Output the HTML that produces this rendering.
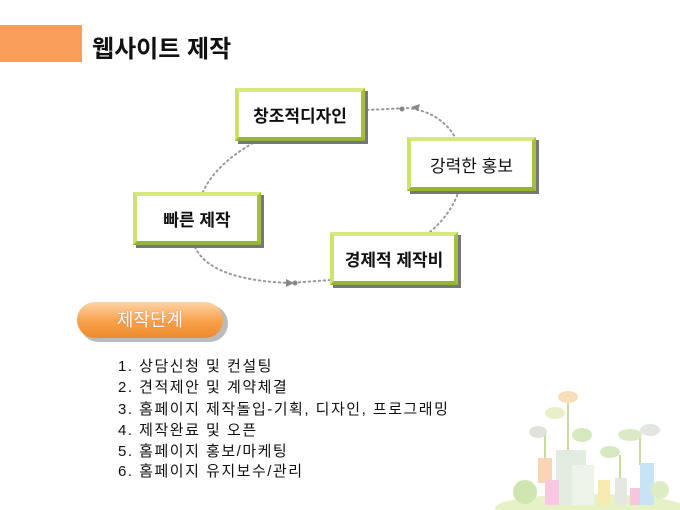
<!DOCTYPE html>
<html><head><meta charset="utf-8"><style>
body{margin:0;width:680px;height:510px;background:#fff;position:relative;overflow:hidden;font-family:"Liberation Sans","Noto Sans CJK KR",sans-serif}
.a{position:absolute}
.box{position:absolute;box-sizing:border-box;background:#fff;border:4px solid #bcd94c;border-top-color:#d6ea7c;border-left-color:#cce36a;border-bottom-color:#94b530;border-right-color:#a3c13a;box-shadow:3px 3px 0 #777;display:flex;align-items:center;justify-content:center;font-size:17px;font-weight:bold;color:#111}
.li{position:absolute;left:118px;font-size:15px;letter-spacing:1.5px;color:#111;white-space:nowrap}
</style></head><body>
<div class="a" style="left:0;top:25px;width:82px;height:37px;background:#f99d5b"></div>
<div class="a" style="left:92px;top:29px;font-size:24px;font-weight:bold;color:#111">웹사이트 제작</div>
<svg class="a" style="left:0;top:0" width="680" height="510">
<g fill="none" stroke="#999" stroke-width="2" stroke-dasharray="1.5 3.5" stroke-linecap="round">
<path d="M367 110 L408 108 Q440 112 455 137"/>
<path d="M253 143 Q215 165 203 192"/>
<path d="M195 247 Q210 280 290 283 L330 280"/>
<path d="M430 232 Q450 215 458 193"/>
</g>
<g fill="#888"><circle cx="402" cy="109" r="2.5"/><path d="M411 107 l9 -3 l-2 7z"/><circle cx="295" cy="283" r="2.5"/><path d="M286 279 l8 4 l-8 4z"/></g>
</svg>
<div class="box" style="left:235px;top:88px;width:130px;height:53px">창조적디자인</div>
<div class="box" style="left:407px;top:137px;width:129px;height:54px;font-weight:normal">강력한 홍보</div>
<div class="box" style="left:133px;top:192px;width:128px;height:53px">빠른 제작</div>
<div class="box" style="left:330px;top:232px;width:128px;height:53px">경제적 제작비</div>
<div class="a" style="left:80px;top:305px;width:148px;height:37px;border-radius:19px;background:#bbb"></div>
<div class="a" style="left:77px;top:302px;width:146px;height:36px;border-radius:18px;background:linear-gradient(#fdd4a6,#f7a04a 55%,#f08a2c);color:#fff;font-size:18px;line-height:36px;text-align:center;text-shadow:0 0 1px #a65">제작단계</div>
<div class="li" style="top:355px">1. 상담신청 및 컨설팅</div>
<div class="li" style="top:376px">2. 견적제안 및 계약체결</div>
<div class="li" style="top:398px">3. 홈페이지 제작돌입-기획, 디자인, 프로그래밍</div>
<div class="li" style="top:419px">4. 제작완료 및 오픈</div>
<div class="li" style="top:440px">5. 홈페이지 홍보/마케팅</div>
<div class="li" style="top:460px">6. 홈페이지 유지보수/관리</div>
<svg class="a" style="left:480px;top:380px" width="200" height="130">
<ellipse cx="110" cy="128" rx="95" ry="14" fill="#e6f2c6"/>
<g stroke="#c9dba0" stroke-width="2"><line x1="65" y1="50" x2="65" y2="80"/><line x1="88" y1="15" x2="88" y2="70"/><line x1="140" y1="75" x2="140" y2="105"/><line x1="160" y1="55" x2="160" y2="85"/></g>
<ellipse cx="88" cy="17" rx="10" ry="6" fill="#f6dfb8"/><ellipse cx="75" cy="33" rx="10" ry="6" fill="#e9efc9"/><ellipse cx="58" cy="52" rx="9" ry="6" fill="#dfe3dc"/><ellipse cx="102" cy="55" rx="10" ry="7" fill="#d6e8c0"/><ellipse cx="150" cy="55" rx="12" ry="6" fill="#dbeac6"/><ellipse cx="130" cy="72" rx="10" ry="6" fill="#d6e8c0"/><ellipse cx="170" cy="50" rx="10" ry="6" fill="#e3e6e0"/>
<rect x="58" y="78" width="14" height="25" fill="#fbd4b6"/>
<rect x="76" y="70" width="30" height="55" fill="#e3ece0"/>
<rect x="92" y="85" width="22" height="40" fill="#eef4ea"/>
<rect x="65" y="100" width="14" height="25" fill="#f7c8e0"/>
<rect x="118" y="100" width="12" height="25" fill="#f8e9b0"/>
<rect x="135" y="98" width="12" height="27" fill="#e4e8e0"/>
<rect x="150" y="108" width="10" height="17" fill="#f5c6dc"/>
<rect x="160" y="83" width="14" height="42" fill="#c8e4f4"/>
<circle cx="45" cy="112" r="12" fill="#cfe6b0"/><circle cx="180" cy="110" r="9" fill="#dcedc4"/>
</svg>
</body></html>
